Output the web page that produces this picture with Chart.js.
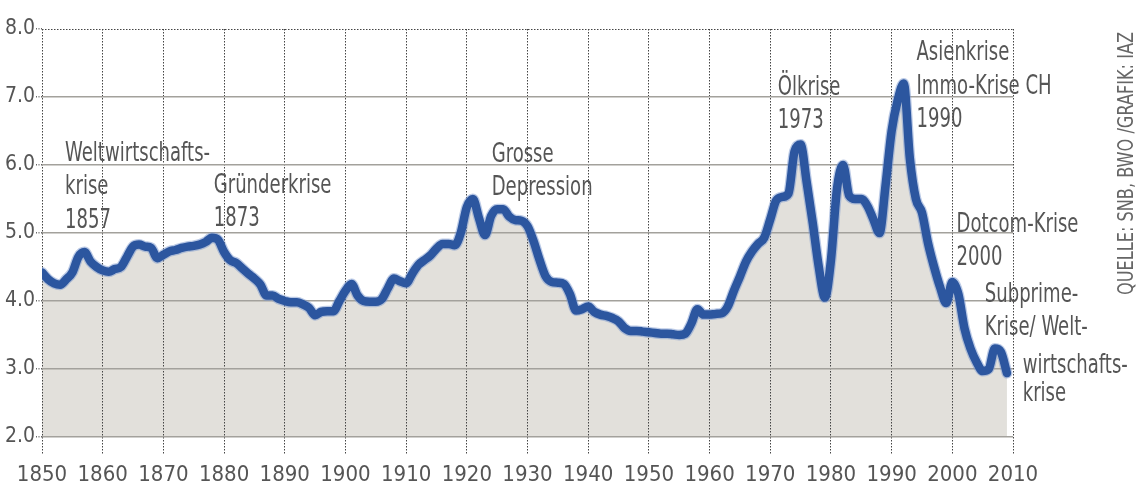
<!DOCTYPE html>
<html>
<head>
<meta charset="utf-8">
<script src="https://cdn.jsdelivr.net/npm/chart.js@4/dist/chart.umd.min.js"></script>
<style>
  html, body { margin: 0; padding: 0; background: #fff; }
  #wrap { width: 1136px; height: 486px; position: relative; }
</style>
</head>
<body>
<div id="wrap"><canvas id="c" width="1136" height="486"></canvas></div>
<script>
// ---- data ----
const startYear = 1850;
const rates = [
  // 1850-1859
  4.42, 4.32, 4.26, 4.24, 4.32, 4.42, 4.65, 4.72, 4.58, 4.50,
  // 1860-1869
  4.45, 4.43, 4.47, 4.50, 4.65, 4.80, 4.83, 4.80, 4.78, 4.63,
  // 1870-1879
  4.68, 4.73, 4.75, 4.78, 4.80, 4.81, 4.83, 4.87, 4.93, 4.90,
  // 1880-1889
  4.72, 4.60, 4.56, 4.48, 4.40, 4.33, 4.24, 4.08, 4.08, 4.03,
  // 1890-1899
  4.00, 3.98, 3.98, 3.95, 3.90, 3.79, 3.84, 3.85, 3.85, 4.00,
  // 1900-1909
  4.15, 4.25, 4.08, 4.00, 3.99, 3.99, 4.03, 4.19, 4.33, 4.29,
  // 1910-1919
  4.26, 4.40, 4.53, 4.60, 4.67, 4.77, 4.84, 4.84, 4.82, 5.00,
  // 1920-1929
  5.38, 5.50, 5.22, 4.97, 5.25, 5.35, 5.35, 5.24, 5.19, 5.18,
  // 1930-1939
  5.10, 4.88, 4.60, 4.36, 4.28, 4.27, 4.25, 4.10, 3.86, 3.88,
  // 1940-1949
  3.92, 3.84, 3.80, 3.78, 3.75, 3.70, 3.60, 3.56, 3.56, 3.55,
  // 1950-1959
  3.54, 3.53, 3.52, 3.52, 3.51, 3.50, 3.52, 3.67, 3.88, 3.80,
  // 1960-1969
  3.80, 3.81, 3.82, 3.92, 4.15, 4.36, 4.58, 4.73, 4.84, 4.93,
  // 1970-1979
  5.20, 5.48, 5.53, 5.58, 6.20, 6.30, 5.75, 5.15, 4.50, 4.05,
  // 1980-1989
  4.60, 5.65, 6.00, 5.55, 5.50, 5.50, 5.40, 5.20, 5.00, 5.70,
  // 1990-1999
  6.50, 6.95, 7.20, 6.10, 5.50, 5.30, 4.85, 4.50, 4.20, 3.97,
  // 2000-2009
  4.28, 4.10, 3.60, 3.30, 3.10, 2.97, 3.00, 3.30, 3.25, 2.94
];
const years = rates.map((_, i) => startYear + i);
const xTicks = [1850, 1860, 1870, 1880, 1890, 1900, 1910, 1920, 1930, 1940, 1950, 1960, 1970, 1980, 1990, 2000, 2010];
const yTicks = [2, 3, 4, 5, 6, 7, 8];

// annotation texts, anchored at (year, value) of the first baseline
const noteTexts = [
  ['Weltwirtschafts-', 'krise', '1857'],
  ['Gründerkrise', '1873'],
  ['Grosse', 'Depression'],
  ['Ölkrise', '1973'],
  ['Asienkrise', 'Immo-Krise CH', '1990'],
  ['Dotcom-Krise', '2000'],
  ['Subprime-', 'Krise/ Welt-'],
  ['wirtschafts-', 'krise']
];
const noteYears  = [1853.8, 1878.3, 1924.1, 1971.25, 1994.1, 2000.7, 2005.35, 2011.6];
const noteValues = [6.06, 5.59, 6.05, 7.03, 7.54, 5.02, 3.99, 2.94];
const sourceText = 'QUELLE: SNB, BWO /GRAFIK: IAZ';

// ---- chart ----
const FONT = '"Liberation Sans Narrow", "Arial Narrow", "DejaVu Sans Condensed", sans-serif';
const points = years.map((y, i) => ({ x: y, y: rates[i] }));

const decor = {
  id: 'decor',
  beforeDatasetsDraw(chart) {
    const { ctx, chartArea, scales } = chart;
    const y8 = scales.y.getPixelForValue(8);
    ctx.save();
    ctx.strokeStyle = '#444';
    ctx.lineWidth = 1;
    ctx.setLineDash([1.5, 1.5]);
    ctx.beginPath();
    ctx.moveTo(chartArea.left, Math.round(y8) + 0.5);
    ctx.lineTo(chartArea.right, Math.round(y8) + 0.5);
    ctx.stroke();
    ctx.restore();
  },
  afterDraw(chart) {
    const { ctx, scales } = chart;
    ctx.save();
    ctx.fillStyle = '#555';
    ctx.font = '27px ' + FONT;
    ctx.textBaseline = 'alphabetic';
    const sx = 145 / ctx.measureText('Weltwirtschafts-').width;
    noteTexts.forEach((lines, k) => {
      const x = scales.x.getPixelForValue(noteYears[k]);
      const y = scales.y.getPixelForValue(noteValues[k]);
      const lh = k === 7 ? 28 : 33.5;
      lines.forEach((t, j) => {
        ctx.save();
        ctx.translate(x, y + j * lh);
        ctx.scale(sx, 1);
        ctx.fillText(t, 0, 0);
        ctx.restore();
      });
    });
    // vertical source
    ctx.save();
    ctx.translate(1128, 295);
    ctx.rotate(-Math.PI / 2);
    ctx.font = '21px ' + FONT;
    ctx.fillStyle = '#666';
    ctx.textBaseline = 'middle';
    const w = ctx.measureText(sourceText).width;
    ctx.scale(263 / w, 1);
    ctx.fillText(sourceText, 0, 0);
    ctx.restore();
    ctx.restore();
  }
};

new Chart(document.getElementById('c'), {
  type: 'line',
  data: {
    datasets: [
      {
        data: points,
        borderColor: '#2c569f',
        borderWidth: 8.5,
        backgroundColor: '#e2e0db',
        fill: 'start',
        pointRadius: 0,
        cubicInterpolationMode: 'monotone',
        borderCapStyle: 'round',
        borderJoinStyle: 'round'
      },
      {
        data: points,
        borderColor: 'rgba(120,150,205,0.5)',
        borderWidth: 11,
        fill: false,
        pointRadius: 0,
        cubicInterpolationMode: 'monotone',
        borderCapStyle: 'round',
        borderJoinStyle: 'round'
      }
    ]
  },
  options: {
    responsive: false,
    maintainAspectRatio: false,
    devicePixelRatio: 1,
    animation: false,
    layout: { padding: { top: 29, right: 123, left: 0, bottom: 0 } },
    plugins: {
      legend: { display: false },
      tooltip: { enabled: false },
      filler: { drawTime: 'beforeDraw' }
    },
    scales: {
      x: {
        type: 'linear',
        min: 1850,
        max: 2010,
        afterBuildTicks: (s) => { s.ticks = xTicks.map(v => ({ value: v })); },
        afterFit: (s) => { s.height = 49; },
        ticks: {
          callback: (v) => String(v),
          color: '#555',
          font: { family: FONT, size: 22 },
          padding: 7,
          maxRotation: 0,
          autoSkip: false
        },
        grid: {
          color: '#444',
          lineWidth: 1,
          tickLength: 18,
          tickBorderDash: [1.5, 1.5],
          tickColor: '#444'
        },
        border: { display: false, dash: [1.5, 1.5] }
      },
      y: {
        min: 2,
        max: 8,
        afterBuildTicks: (s) => { s.ticks = yTicks.map(v => ({ value: v })); },
        afterFit: (s) => { s.width = 42; },
        ticks: {
          callback: (v) => Number(v).toFixed(1),
          color: '#555',
          font: { family: FONT, size: 21 },
          padding: 1
        },
        grid: {
          color: (c) => (c.tick && c.tick.value === 8) ? 'rgba(0,0,0,0)' : '#a3a19c',
          lineWidth: 1.5,
          tickLength: 6,
          tickColor: '#666',
          tickBorderDash: [1, 1.5]
        },
        border: { display: false }
      }
    }
  },
  plugins: [decor]
});
</script>
</body>
</html>
